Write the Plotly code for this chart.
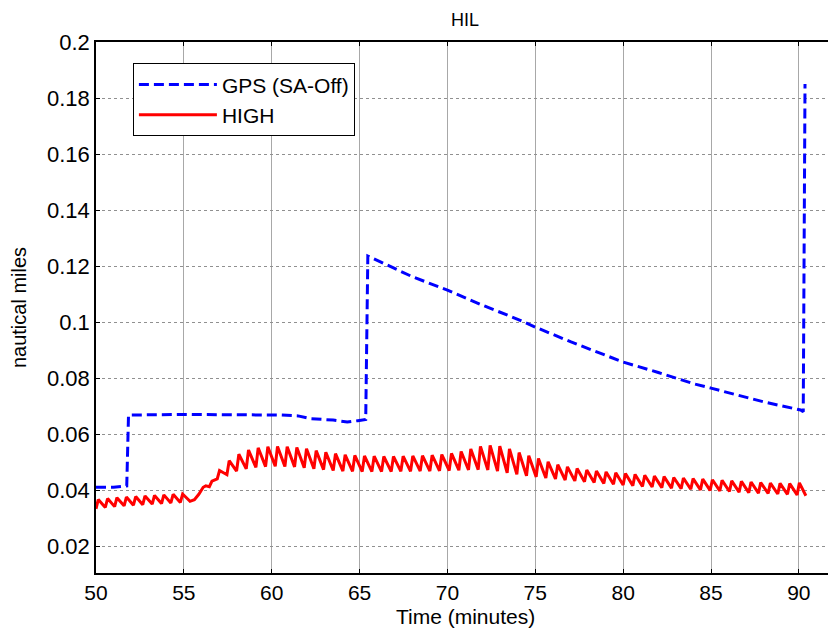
import plotly.graph_objects as go

# ---------------- data ----------------
gps_t = [50.0, 51.0, 51.75, 51.85, 55.0, 58.0, 60.5, 61.5, 62.2, 63.5, 64.3,
         64.9, 65.35, 65.47, 67.0, 68.0, 70.0, 72.0, 74.0, 75.0, 77.0, 78.0,
         80.0, 82.0, 84.0, 85.0, 87.0, 88.0, 90.1, 90.25, 90.35]
gps_v = [0.0410, 0.0410, 0.0415, 0.0668, 0.0670, 0.0670, 0.0668, 0.0665, 0.0655,
         0.0650, 0.0643, 0.0648, 0.0652, 0.1236, 0.1190, 0.1162, 0.1114, 0.1060,
         0.1010, 0.0982, 0.0930, 0.0905, 0.0857, 0.0820, 0.0780, 0.0764, 0.0733,
         0.0715, 0.0686, 0.0680, 0.1850]

high_t = [50.00, 50.13, 50.53, 50.66, 51.06, 51.19, 51.60, 51.73, 52.13, 52.26,
          52.66, 52.79, 53.20, 53.33, 53.73, 53.86, 54.26, 54.39, 54.80, 54.93,
          55.35, 55.60, 55.85, 56.10, 56.25, 56.45, 56.60,
          56.90, 57.03, 57.45, 57.58, 58.00, 58.13, 58.55, 58.68, 59.10, 59.23,
          59.65, 59.78, 60.20, 60.33, 60.75, 60.88, 61.30, 61.43, 61.85, 61.98,
          62.40, 62.53, 62.95, 63.08, 63.50, 63.63, 64.05, 64.18, 64.60, 64.73,
          65.15, 65.28, 65.70, 65.83, 66.25, 66.38, 66.80, 66.93, 67.35, 67.48,
          67.90, 68.03, 68.45, 68.58, 69.00, 69.13, 69.55, 69.68, 70.10, 70.23,
          70.65, 70.78, 71.20, 71.33, 71.75, 71.88, 72.30, 72.43, 72.85, 72.98,
          73.40, 73.53, 73.95, 74.08, 74.50, 74.63, 75.05, 75.18, 75.60, 75.73,
          76.15, 76.28, 76.70, 76.83, 77.25, 77.38, 77.80, 77.93, 78.35, 78.48,
          78.90, 79.03, 79.45, 79.58, 80.00, 80.13, 80.55, 80.68, 81.10, 81.23,
          81.65, 81.78, 82.20, 82.33, 82.75, 82.88, 83.30, 83.43, 83.85, 83.98,
          84.40, 84.53, 84.95, 85.08, 85.50, 85.63, 86.05, 86.18, 86.60, 86.73,
          87.15, 87.28, 87.70, 87.83, 88.25, 88.38, 88.80, 88.93, 89.35, 89.48,
          89.90, 90.03, 90.40]
high_v = [0.0333, 0.0366, 0.0338, 0.0370, 0.0341, 0.0373, 0.0344, 0.0375, 0.0346, 0.0377,
          0.0348, 0.0379, 0.0350, 0.0381, 0.0352, 0.0383, 0.0354, 0.0385, 0.0356, 0.0386,
          0.0360, 0.0366, 0.0385, 0.0410, 0.0415, 0.0412, 0.0432,
          0.0440, 0.0470, 0.0455, 0.0505, 0.0468, 0.0528, 0.0476, 0.0543, 0.0481, 0.0551,
          0.0484, 0.0555, 0.0485, 0.0556, 0.0484, 0.0555, 0.0483, 0.0552, 0.0480, 0.0548,
          0.0476, 0.0541, 0.0473, 0.0535, 0.0470, 0.0530, 0.0468, 0.0526, 0.0467, 0.0524,
          0.0466, 0.0522, 0.0466, 0.0521, 0.0466, 0.0520, 0.0466, 0.0520, 0.0467, 0.0521,
          0.0467, 0.0522, 0.0468, 0.0523, 0.0468, 0.0525, 0.0469, 0.0527, 0.0470, 0.0531,
          0.0471, 0.0538, 0.0472, 0.0547, 0.0473, 0.0556, 0.0472, 0.0560, 0.0468, 0.0557,
          0.0462, 0.0547, 0.0456, 0.0534, 0.0451, 0.0523, 0.0447, 0.0513, 0.0443, 0.0501,
          0.0440, 0.0491, 0.0436, 0.0483, 0.0433, 0.0477, 0.0430, 0.0472, 0.0427, 0.0468,
          0.0424, 0.0465, 0.0421, 0.0462, 0.0418, 0.0459, 0.0416, 0.0456, 0.0413, 0.0453,
          0.0411, 0.0450, 0.0409, 0.0448, 0.0407, 0.0445, 0.0405, 0.0443, 0.0403, 0.0441,
          0.0401, 0.0439, 0.0399, 0.0437, 0.0397, 0.0435, 0.0395, 0.0433, 0.0393, 0.0431,
          0.0391, 0.0429, 0.0389, 0.0427, 0.0388, 0.0425, 0.0386, 0.0424, 0.0385, 0.0423,
          0.0383, 0.0426, 0.0380]

x_ticks = [50, 55, 60, 65, 70, 75, 80, 85, 90]
y_ticks = [0.02, 0.04, 0.06, 0.08, 0.1, 0.12, 0.14, 0.16, 0.18, 0.2]
y_tick_text = ["0.02", "0.04", "0.06", "0.08", "0.1", "0.12", "0.14", "0.16", "0.18", "0.2"]

# ---------------- figure ----------------
# the page body adds an 8px margin, so the figure is 8px smaller than the window
FONT = "Liberation Sans, Arial, sans-serif"
fig = go.Figure()
fig.add_trace(go.Scatter(x=gps_t, y=gps_v, mode="lines", name="GPS (SA-Off)",
                         line=dict(color="#0000ff", width=3, dash="10px,5px")))
fig.add_trace(go.Scatter(x=high_t, y=high_v, mode="lines", name="HIGH",
                         line=dict(color="#ff0000", width=3)))

fig.update_layout(
    width=828, height=621,
    margin=dict(l=88, r=2, t=34, b=56),
    paper_bgcolor="white", plot_bgcolor="white",
    font=dict(family=FONT, color="black", size=20),
    title=dict(text="HIL", x=0.5, xref="paper", y=0.981, yanchor="middle",
               font=dict(size=18, family=FONT)),
    showlegend=True,
    legend=dict(x=0.05, y=0.96, xanchor="left", yanchor="top",
                bgcolor="white", bordercolor="black", borderwidth=1,
                font=dict(size=21, family=FONT), itemwidth=78,
                tracegroupgap=0),
    annotations=[dict(text="Time (minutes)", xref="paper", yref="paper",
                      x=0.5, y=-0.081, xanchor="center", yanchor="middle",
                      showarrow=False, font=dict(size=21, family=FONT))],
)
fig.update_xaxes(
    range=[50, 92], tickvals=x_ticks, ticks="inside", ticklen=4, tickcolor="black",
    showline=True, linecolor="black", linewidth=1.5, mirror="ticks",
    showgrid=True, gridcolor="#a8a8a8", gridwidth=1,
    zeroline=False, automargin=False,
    tickfont=dict(size=21, family=FONT),
)
fig.update_yaxes(
    range=[0.0104, 0.2], tickvals=y_ticks, ticktext=y_tick_text,
    ticks="inside", ticklen=4, tickcolor="black",
    showline=True, linecolor="black", linewidth=1.5, mirror="ticks",
    showgrid=True, gridcolor="#909090", gridwidth=1, griddash="dot",
    zeroline=False, automargin=False,
    tickfont=dict(size=22, family=FONT),
    title=dict(text="nautical miles", font=dict(size=20, family=FONT), standoff=16),
)

fig.write_html("out.html")
